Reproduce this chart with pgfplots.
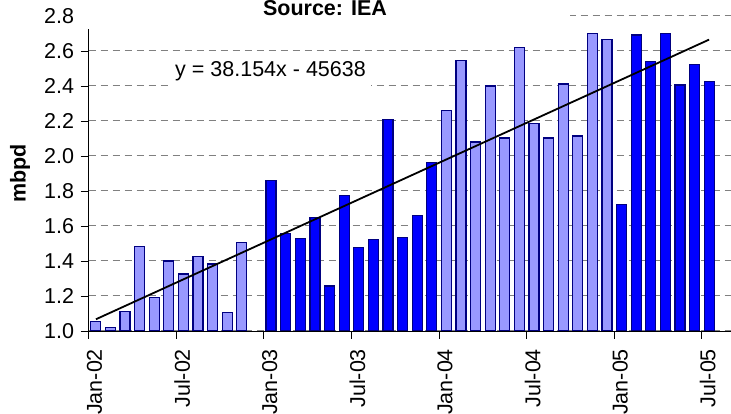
\documentclass[border=0pt]{standalone}
\usepackage{pgfplots}
\pgfplotsset{compat=1.18}
\usepackage{fontspec}
\setmainfont{Liberation Sans}

\definecolor{lightbar}{RGB}{153,153,255}
\definecolor{darkbar}{RGB}{0,0,255}
\definecolor{barline}{RGB}{0,0,128}
\definecolor{gridgray}{RGB}{128,128,128}

\newcommand{\lblfont}{\fontsize{21.5}{24}\selectfont}

\begin{document}
\begin{tikzpicture}
\begin{axis}[
    scale only axis,
    width=642.4pt, height=315pt,
    xmin=0, xmax=44,
    ymin=1, ymax=2.8,
    axis x line*=bottom,
    axis y line*=left,
    axis line style={black, line width=0.9pt},
    xtick={0,6,12,18,24,30,36,42},
    xticklabels={Jan-02,Jul-02,Jan-03,Jul-03,Jan-04,Jul-04,Jan-05,Jul-05},
    ytick={1,1.2,1.4,1.6,1.8,2,2.2,2.4,2.6,2.8},
    ymajorgrids,
    major grid style={gridgray, line width=1pt, dash pattern=on 7pt off 5pt},
    tick align=outside,
    major tick length=8pt,
    tick style={black, line width=0.9pt},
    ticklabel style={font=\lblfont},
    /pgf/number format/assume math mode=true,
    yticklabel style={/pgf/number format/.cd, fixed, fixed zerofill, precision=1},
    yticklabel shift=3pt,
    xticklabel style={xshift=6pt, rotate=90, anchor=east},
    xticklabel shift=6.5pt,
    ylabel={mbpd},
    ylabel style={font=\bfseries\lblfont, at={(axis description cs:-0.1068,0.5)}, anchor=center},
    clip mode=individual,
]
% 2002 and 2004 (light bars)
\addplot[ybar, bar width=10pt, fill=lightbar, draw=barline, line width=1.2pt] coordinates {
    (0.5,1.053) (1.5,1.019) (2.5,1.110) (3.5,1.482) (4.5,1.193) (5.5,1.400)
    (6.5,1.326) (7.5,1.425) (8.5,1.383) (9.5,1.105) (10.5,1.505)
    (24.5,2.259) (25.5,2.545) (26.5,2.080) (27.5,2.400) (28.5,2.103) (29.5,2.619)
    (30.5,2.185) (31.5,2.103) (32.5,2.411) (33.5,2.114) (34.5,2.701) (35.5,2.667)
};
% 2003 and 2005 (dark bars)
\addplot[ybar, bar width=10pt, fill=darkbar, draw=barline, line width=1.2pt] coordinates {
    (12.5,1.859) (13.5,1.558) (14.5,1.530) (15.5,1.650) (16.5,1.257) (17.5,1.773)
    (18.5,1.476) (19.5,1.524) (20.5,2.210) (21.5,1.535) (22.5,1.659) (23.5,1.962)
    (36.5,1.724) (37.5,2.691) (38.5,2.539) (39.5,2.701) (40.5,2.406) (41.5,2.522)
    (42.5,2.425)
};
% linear trend
\addplot[black, line width=1.8pt] coordinates {(0.5,1.067) (42.5,2.665)};

\node[fill=white, inner sep=0pt, minimum width=201pt, minimum height=36pt, font=\lblfont]
    at (axis cs:12.46,2.486) {y = 38.154x - 45638};
\node[fill=white, inner sep=0pt, minimum width=490pt, minimum height=41pt, font=\bfseries\lblfont]
    at (axis cs:16.19,2.843) {Source: IEA};
\end{axis}
\pgfresetboundingbox
\path (-88.6pt,-83pt) rectangle (642.4pt,331pt);
\end{tikzpicture}
\end{document}
